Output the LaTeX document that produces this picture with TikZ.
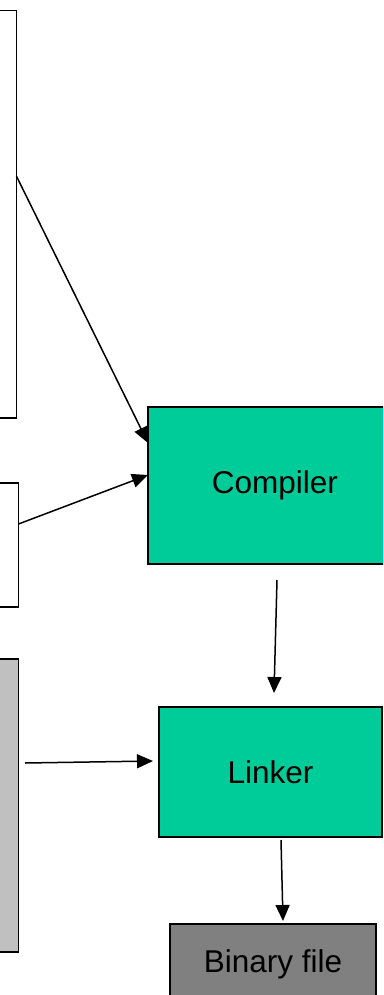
\documentclass[tikz,border=0pt]{standalone}
\usepackage{fontspec}
\setmainfont{Liberation Sans}
\usetikzlibrary{arrows.meta}
\definecolor{greenfill}{HTML}{00CC99}
\definecolor{lightgrayfill}{HTML}{C0C0C0}
\definecolor{darkgrayfill}{HTML}{808080}
\tikzset{
  blk/.style={draw=black, line width=1.9pt, rectangle, inner sep=0pt, outer sep=0pt, font=\fontsize{31.5pt}{36pt}\selectfont},
  conn/.style={line width=1.5pt, -{Triangle[length=16pt,width=14pt]}},
}
\begin{document}
\begin{tikzpicture}[x=1pt,y=-1pt]
\useasboundingbox (0,0) rectangle (383,995);
\clip (0,0) rectangle (383,995);
\fill[white] (0,0) rectangle (383,995);
\node[blk, fill=white, minimum width=116.5pt, minimum height=407.5pt] (src) at (-41.75,214.25) {};
\node[blk, fill=white, minimum width=118.5pt, minimum height=124pt] (hdr) at (-40.75,545) {};
\node[blk, fill=lightgrayfill, minimum width=118.5pt, minimum height=293pt] (lib) at (-40.75,805.5) {};
\node[blk, fill=greenfill, minimum width=254pt, minimum height=157pt] (comp) at (275,485.5) {Compiler};
\node[blk, fill=greenfill, minimum width=223pt, minimum height=130pt] (link) at (270.5,772) {Linker};
\node[blk, fill=darkgrayfill, minimum width=206pt, minimum height=81pt] (bin) at (273,964.5) {Binary file};
\draw[conn] ([yshift=38pt]src.east) -- ([yshift=42.5pt]comp.west);
\draw[conn] ([yshift=21pt]hdr.east) -- ([yshift=10.5pt]comp.west);
\draw[conn] ([xshift=6.5pt,yshift=42.5pt]lib.east) -- ([xshift=-6pt,yshift=11pt]link.west);
\draw[conn] ([xshift=2pt,yshift=-16pt]comp.south) -- ([xshift=3.5pt,yshift=14pt]link.north);
\draw[conn] ([xshift=10.5pt,yshift=-3pt]link.south) -- ([xshift=10pt,yshift=3pt]bin.north);
\end{tikzpicture}
\end{document}
